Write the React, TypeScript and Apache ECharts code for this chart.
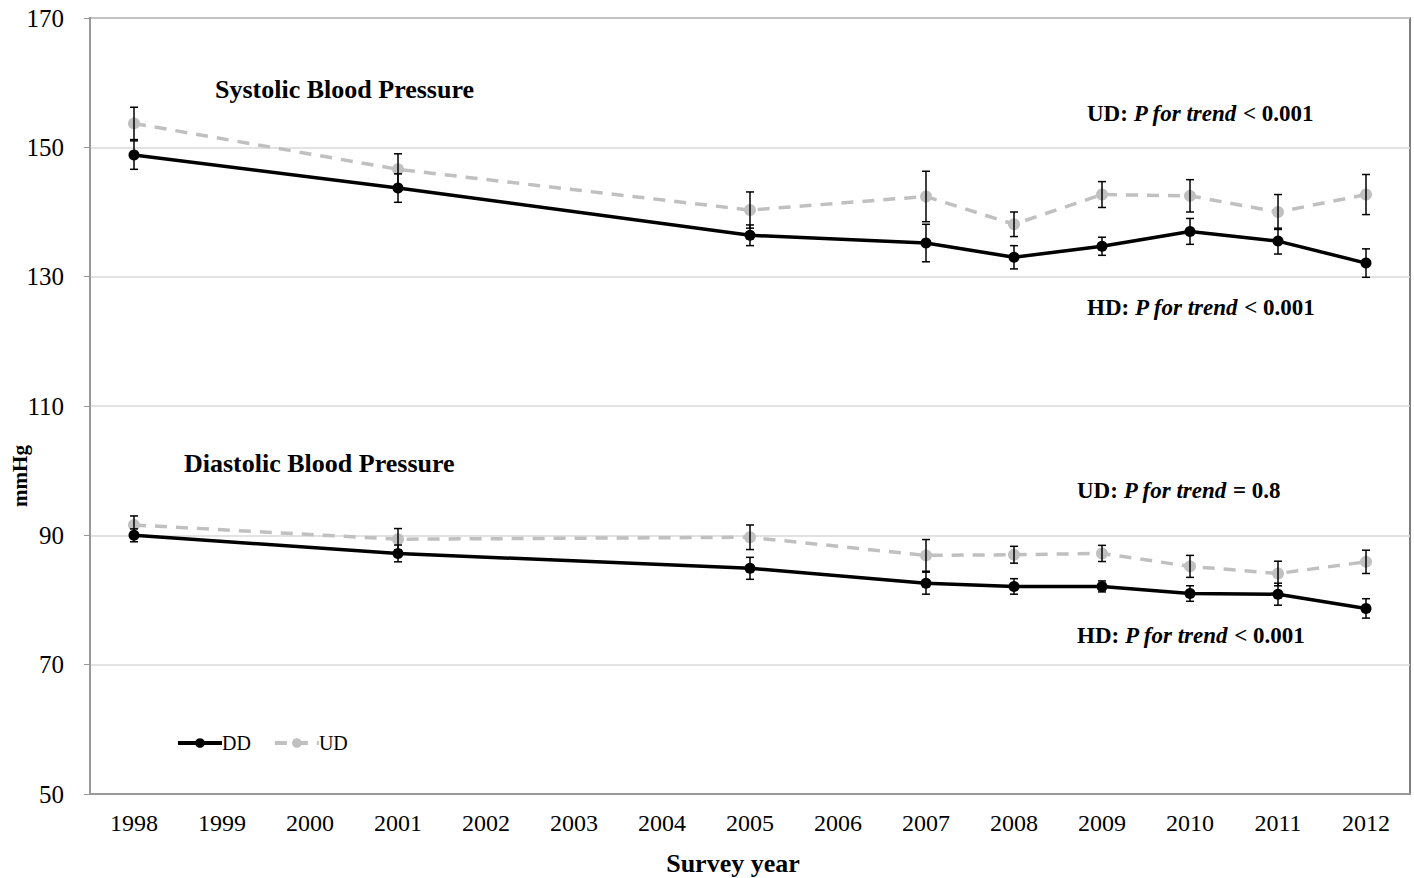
import React, { useEffect, useRef } from "react";
import * as echarts from "echarts";

const years = ["1998","1999","2000","2001","2002","2003","2004","2005","2006","2007","2008","2009","2010","2011","2012"];
const obsYears = ["1998","2001","2005","2007","2008","2009","2010","2011","2012"];

const sbpDD = [148.8, 143.7, 136.4, 135.2, 133.0, 134.7, 137.0, 135.5, 132.1];
const sbpDDErr = [2.2, 2.2, 1.6, 2.9, 1.8, 1.4, 2.0, 2.0, 2.2];
const sbpUD = [153.7, 146.6, 140.3, 142.4, 138.1, 142.7, 142.5, 140.0, 142.7];
const sbpUDErr = [2.5, 2.4, 2.8, 3.9, 1.9, 2.0, 2.5, 2.7, 3.1];

const dbpDD = [90.0, 87.2, 84.9, 82.6, 82.1, 82.1, 81.0, 80.9, 78.7];
const dbpDDErr = [1.0, 1.3, 1.7, 1.7, 1.2, 0.85, 1.2, 1.7, 1.5];
const dbpUD = [91.6, 89.4, 89.7, 86.9, 87.0, 87.2, 85.2, 84.1, 85.9];
const dbpUDErr = [1.4, 1.65, 1.9, 2.45, 1.3, 1.25, 1.7, 1.9, 1.8];

const yTicks = [50, 70, 90, 110, 130, 150, 170];

const FONT = "'Liberation Serif', 'Times New Roman', serif";

function toSeries(vals: number[]) {
  return years.map((y) => {
    const i = obsYears.indexOf(y);
    return i >= 0 ? vals[i] : null;
  });
}

function toErr(vals: number[], errs: number[]) {
  return obsYears.map((y, i) => [years.indexOf(y), vals[i] - errs[i], vals[i] + errs[i]]);
}

const errData = [
  ...toErr(sbpDD, sbpDDErr),
  ...toErr(sbpUD, sbpUDErr),
  ...toErr(dbpDD, dbpDDErr),
  ...toErr(dbpUD, dbpUDErr),
];

export default function App() {
  const ref = useRef<HTMLDivElement>(null);
  useEffect(() => {
    document.body.style.margin = "0";
    const chart = echarts.init(ref.current!, null, { renderer: "svg" });
    const boldRich = {
      b: { fontFamily: FONT, fontWeight: "bold", fontSize: 23, fill: "#000" },
      i: { fontFamily: FONT, fontWeight: "bold", fontStyle: "italic", fontSize: 23, fill: "#000" },
    };
    const ann = (x: number, y: number, text: string) => ({
      type: "text",
      left: x,
      top: y,
      z: 100,
      style: { text, rich: boldRich, fill: "#000" },
    });
    const option: any = {
      animation: false,
      backgroundColor: "#fff",
      textStyle: { fontFamily: FONT },
      grid: {
        left: 90,
        right: 4,
        top: 18,
        bottom: 84,
        show: true,
        borderColor: "#555",
        borderWidth: 1.5,
        backgroundColor: "transparent",
        containLabel: false,
        outerBoundsMode: "none",
      },
      legend: {
        left: 171,
        top: 728,
        itemWidth: 44,
        itemHeight: 12,
        itemGap: 22,
        lineStyle: { width: 4 },
        textStyle: { fontFamily: FONT, fontSize: 20, color: "#000", padding: [0, 0, 0, -5] },
        data: ["DD", "UD"],
      },
      xAxis: {
        type: "category",
        data: years,
        boundaryGap: true,
        axisLine: { lineStyle: { color: "#999", width: 2 } },
        axisTick: { show: false },
        axisLabel: { fontFamily: FONT, fontSize: 24, color: "#000", margin: 17 },
        name: "Survey year",
        nameLocation: "middle",
        nameGap: 56,
        nameTextStyle: { fontFamily: FONT, fontSize: 26, fontWeight: "bold", color: "#000", padding: [0, 34, 0, 0] },
      },
      yAxis: {
        type: "value",
        min: 50,
        max: 170,
        interval: 20,
        axisLine: { show: true, lineStyle: { color: "#999", width: 2 } },
        axisTick: { show: true, length: 6, lineStyle: { color: "#999" } },
        axisLabel: { fontFamily: FONT, fontSize: 25, color: "#000", margin: 26, customValues: yTicks },
        splitLine: { lineStyle: { color: "#d9d9d9", width: 1.5 } },
      },
      graphic: [
        { type: "text", left: 215, top: 76, z: 100, style: { text: "Systolic Blood Pressure", font: `bold 26px ${FONT}`, fill: "#000" } },
        { type: "text", left: 184, top: 450, z: 100, style: { text: "Diastolic Blood Pressure", font: `bold 26px ${FONT}`, fill: "#000" } },
        {
          type: "text",
          x: 20,
          y: 476,
          rotation: Math.PI / 2,
          z: 100,
          style: { text: "mmHg", font: `bold 21px ${FONT}`, fill: "#000", align: "center", verticalAlign: "middle" },
        },
        ann(1087, 102, "{b|UD: }{i|P for trend}{b| < 0.001}"),
        ann(1087, 296, "{b|HD: }{i|P for trend}{b| < 0.001}"),
        ann(1077, 479, "{b|UD: }{i|P for trend}{b| = 0.8}"),
        ann(1077, 624, "{b|HD: }{i|P for trend}{b| < 0.001}"),
      ],
      series: [
        {
          name: "UD",
          type: "line",
          data: toSeries(sbpUD),
          connectNulls: true,
          symbol: "circle",
          symbolSize: 12,
          itemStyle: { color: "#c0c0c0" },
          lineStyle: { color: "#c0c0c0", width: 3.5, type: [12, 9] },
          z: 2,
        },
        {
          name: "UD",
          type: "line",
          data: toSeries(dbpUD),
          connectNulls: true,
          symbol: "circle",
          symbolSize: 12,
          itemStyle: { color: "#c0c0c0" },
          lineStyle: { color: "#c0c0c0", width: 3.5, type: [12, 9] },
          z: 2,
        },
        {
          name: "DD",
          type: "line",
          data: toSeries(sbpDD),
          connectNulls: true,
          symbol: "circle",
          symbolSize: 11,
          itemStyle: { color: "#000" },
          lineStyle: { color: "#000", width: 3.5 },
          z: 3,
        },
        {
          name: "DD",
          type: "line",
          data: toSeries(dbpDD),
          connectNulls: true,
          symbol: "circle",
          symbolSize: 11,
          itemStyle: { color: "#000" },
          lineStyle: { color: "#000", width: 3.5 },
          z: 3,
        },
        {
          name: "err",
          type: "custom",
          data: errData,
          z: 5,
          silent: true,
          renderItem: (params: any, api: any) => {
            const x = api.value(0);
            const lo = api.coord([x, api.value(1)]);
            const hi = api.coord([x, api.value(2)]);
            const cx = lo[0];
            const w = 4;
            const st = { stroke: "#000", lineWidth: 1.5 };
            return {
              type: "group",
              children: [
                { type: "line", shape: { x1: cx, y1: lo[1], x2: cx, y2: hi[1] }, style: st },
                { type: "line", shape: { x1: cx - w, y1: lo[1], x2: cx + w, y2: lo[1] }, style: st },
                { type: "line", shape: { x1: cx - w, y1: hi[1], x2: cx + w, y2: hi[1] }, style: st },
              ],
            };
          },
        },
      ],
    };
    chart.setOption(option);
    return () => chart.dispose();
  }, []);
  return <div ref={ref} style={{ width: 1414, height: 878 }} />;
}
